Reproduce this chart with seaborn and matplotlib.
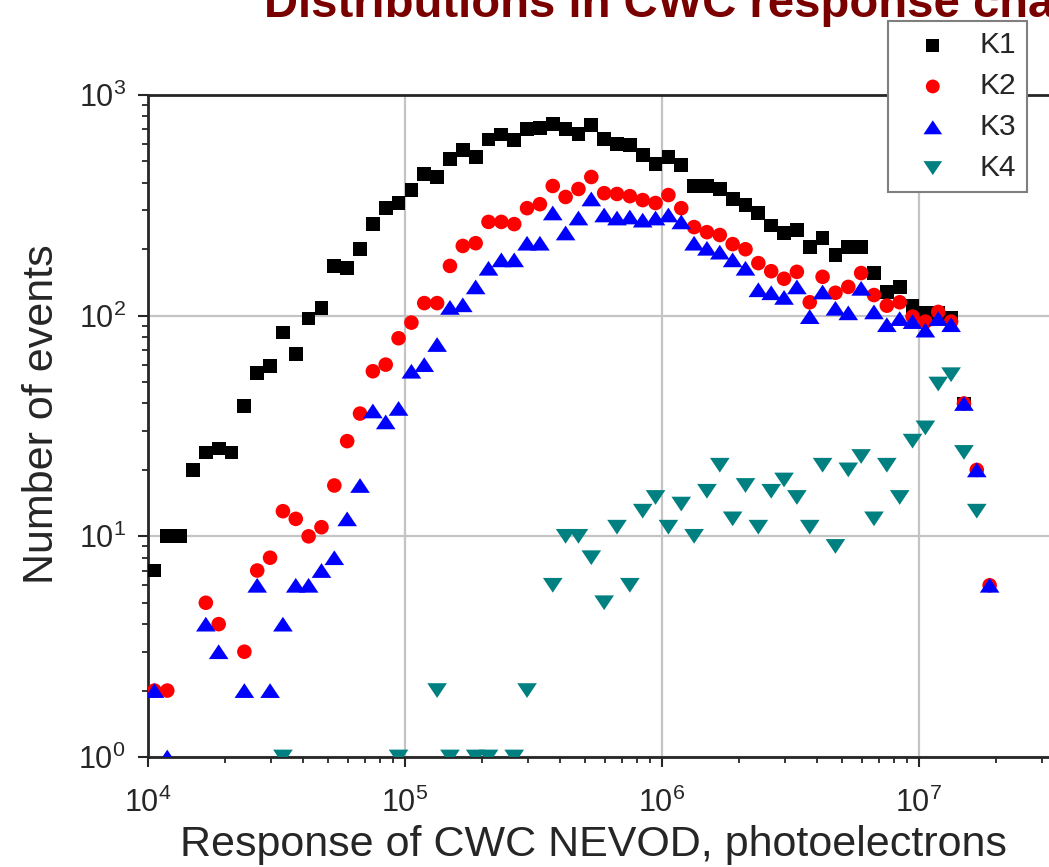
import numpy as np
import pandas as pd
import matplotlib
matplotlib.use("Agg")
import matplotlib.pyplot as plt
import seaborn as sns
from matplotlib.ticker import LogLocator, LogFormatterMathtext, NullFormatter

# ---------------- data ----------------
# bin centres, log10(photoelectrons)
x_log10 = [4.025, 4.075, 4.125, 4.175, 4.225, 4.275, 4.325, 4.375, 4.425, 4.475,
           4.525, 4.575, 4.625, 4.675, 4.725, 4.775, 4.825, 4.875, 4.925, 4.975,
           5.025, 5.075, 5.125, 5.175, 5.225, 5.275, 5.325, 5.375, 5.425, 5.475,
           5.525, 5.575, 5.625, 5.675, 5.725, 5.775, 5.825, 5.875, 5.925, 5.975,
           6.025, 6.075, 6.125, 6.175, 6.225, 6.275, 6.325, 6.375, 6.425, 6.475,
           6.525, 6.575, 6.625, 6.675, 6.725, 6.775, 6.825, 6.875, 6.925, 6.975,
           7.025, 7.075, 7.125, 7.175, 7.225, 7.275]

K1 = [7, 10, 10, 20, 24, 25, 24, 39, 55, 59,
      84, 67, 97, 108, 168, 164, 200, 260, 307, 324,
      371, 438, 425, 512, 562, 523, 628, 662, 625, 700,
      708, 738, 700, 665, 731, 631, 600, 593, 534, 486,
      523, 481, 387, 387, 375, 338, 317, 292, 256, 237,
      244, 205, 225, 188, 205, 205, 156, 128, 135, 111,
      103, 103, 98, 40, None, None]

K2 = [2, 2, None, None, 5, 4, None, 3, 7, 8,
      13, 12, 10, 11, 17, 27, 36, 56, 60, 79,
      93, 114, 114, 168, 207, 213, 266, 266, 260, 307,
      320, 387, 345, 375, 425, 359, 356, 348, 334, 324,
      352, 307, 252, 239, 232, 211, 200, 173, 159, 147,
      158, 115, 150, 127, 135, 156, 124, 111, 115, 99,
      94, 104, 94, 40, 20, 6]

K3 = [2, 1, None, None, 4, 3, None, 2, 6, 2,
      4, 6, 6, 7, 8, 12, 17, 37, 33, 38,
      56, 60, 74, 109, 112, 135, 164, 179, 179, 213,
      213, 292, 237, 277, 338, 286, 277, 280, 271, 277,
      286, 266, 213, 202, 194, 179, 164, 131, 127, 121,
      135, 99, 128, 108, 103, 133, 104, 91, 97, 94,
      86, 97, 91, 40, 20, 6]

K4 = [None, None, None, None, None, None, None, None, None, None,
      1, None, None, None, None, None, None, None, None, 1,
      None, None, 2, 1, None, 1, 1, None, 1, 2,
      None, 6, 10, 10, 8, 5, 11, 6, 13, 15,
      11, 14, 10, 16, 21, 12, 17, 11, 16, 18,
      15, 11, 21, 9, 20, 23, 12, 21, 15, 27,
      31, 49, 54, 24, 13, None]

series_names = ["K1", "K2", "K3", "K4"]
series_values = [K1, K2, K3, K4]

title_text = "Distributions in CWC response characteristics"
x_label = "Response of CWC NEVOD, photoelectrons"
y_label = "Number of events"

# ---------------- style ----------------
sns.set_style("white")
plt.rcParams["font.family"] = ["Liberation Sans", "DejaVu Sans"]
plt.rcParams["mathtext.fontset"] = "custom"
plt.rcParams["mathtext.rm"] = "Liberation Sans"
plt.rcParams["mathtext.it"] = "Liberation Sans:italic"
plt.rcParams["mathtext.bf"] = "Liberation Sans:bold"

tri_up = np.array([[-1.0, -0.75], [1.0, -0.75], [0.0, 0.75], [-1.0, -0.75]])
tri_down = np.array([[-1.0, 0.75], [1.0, 0.75], [0.0, -0.75], [-1.0, 0.75]])

styles = {
    "K1": dict(color="#000000", marker="s", s=98),
    "K2": dict(color="#ff0000", marker="o", s=110),
    "K3": dict(color="#0000ff", marker=tri_up, s=200),
    "K4": dict(color="#008080", marker=tri_down, s=200),
}

fig = plt.figure(figsize=(10.49, 8.67), dpi=100)
ax = fig.add_axes([148 / 1049, 110 / 867, 901 / 1049, 662 / 867])

xs = [10 ** v for v in x_log10]
for name, vals in zip(series_names, series_values):
    df = pd.DataFrame({"x": xs, "count": [np.nan if v is None else v for v in vals]}).dropna()
    st = styles[name]
    sns.scatterplot(data=df, x="x", y="count", ax=ax, color=st["color"],
                    marker=st["marker"], s=st["s"], linewidth=0,
                    edgecolor="none", label=name, zorder=3)

ax.set_xscale("log")
ax.set_yscale("log")
ax.set_xlim(1e4, 10 ** 7.506)
ax.set_ylim(1, 1000)

ax.xaxis.set_major_locator(LogLocator(base=10, numticks=10))
ax.xaxis.set_minor_locator(LogLocator(base=10, subs=np.arange(2, 10), numticks=40))
ax.yaxis.set_major_locator(LogLocator(base=10, numticks=10))
ax.yaxis.set_minor_locator(LogLocator(base=10, subs=np.arange(2, 10), numticks=40))
ax.xaxis.set_major_formatter(LogFormatterMathtext())
ax.yaxis.set_major_formatter(LogFormatterMathtext())
ax.xaxis.set_minor_formatter(NullFormatter())
ax.yaxis.set_minor_formatter(NullFormatter())

ax.grid(True, which="major", color="#c4c4c4", linewidth=1.6)
ax.set_axisbelow(True)

for side in ["left", "bottom", "top"]:
    ax.spines[side].set_visible(True)
    ax.spines[side].set_color("#262626")
    ax.spines[side].set_linewidth(2.0)
ax.spines["right"].set_visible(False)

ax.tick_params(which="major", direction="out", length=7, width=1.5,
               color="#262626", labelsize=22, top=False, right=False,
               bottom=True, left=True)
ax.tick_params(axis="x", which="major", pad=15)
ax.tick_params(axis="y", which="major", pad=9)
ax.tick_params(which="minor", direction="out", length=4.5, width=1.3,
               color="#262626", top=False, right=False, bottom=True, left=True)

ax.set_xlabel(x_label, fontsize=31)
ax.set_ylabel(y_label, fontsize=31)
ax.xaxis.set_label_coords(0.494, -0.102)
ax.yaxis.set_label_coords(-0.095, 0.518)

fig.text(264 / 1049, 1 - 17 / 867, title_text, fontsize=34, fontweight="bold",
         color="#7a0000", ha="left", va="baseline")

leg = ax.legend(loc="upper left", bbox_to_anchor=(888 / 1049, 1 - 21 / 867),
                bbox_transform=fig.transFigure, borderaxespad=0,
                fontsize=21.5, frameon=True, fancybox=False, framealpha=1,
                edgecolor="#7f7f7f", handlelength=2.3, handletextpad=0.42,
                borderpad=0.35, labelspacing=0.43, scatterpoints=1,
                markerscale=0.95)
leg.get_frame().set_linewidth(1.5)
leg.set_zorder(10)

fig.savefig("out.png", dpi=100)
